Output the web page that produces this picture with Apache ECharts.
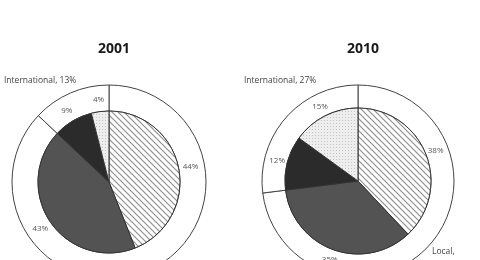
<!DOCTYPE html>
<html><head><meta charset="utf-8">
<script src="https://cdn.jsdelivr.net/npm/echarts@6/dist/echarts.min.js"></script>
<style>html,body{margin:0;padding:0;background:#fff;}#c{width:480px;height:260px;}</style>
</head><body><div id="c"></div>
<script>
var years = ['2001', '2010'];
var innerNames = ['Hatched', 'Dark', 'Black', 'Dotted'];
var inner2001 = [44, 43, 9, 4];
var inner2010 = [38, 35, 12, 15];
var ringNames = ['Local', 'International'];
var ring2001 = [87, 13];
var ring2010 = [73, 27];

function makePattern(kind) {
  var c = document.createElement('canvas');
  var ctx = c.getContext('2d');
  if (kind === 'hatch') {
    c.width = 6; c.height = 6;
    ctx.fillStyle = '#ffffff'; ctx.fillRect(0, 0, 6, 6);
    ctx.strokeStyle = '#909090'; ctx.lineWidth = 1.2;
    ctx.beginPath();
    ctx.moveTo(-1, -1); ctx.lineTo(7, 7);
    ctx.moveTo(-4, 2); ctx.lineTo(2, 8);
    ctx.moveTo(2, -4); ctx.lineTo(8, 2);
    ctx.stroke();
  } else {
    c.width = 3; c.height = 3;
    ctx.fillStyle = '#eeeeee'; ctx.fillRect(0, 0, 3, 3);
    ctx.fillStyle = '#c4c4c4'; ctx.fillRect(0, 0, 1, 1);
  }
  return c;
}
var fills = [
  { image: makePattern('hatch'), repeat: 'repeat' },
  '#535353',
  '#2b2b2b',
  { image: makePattern('dot'), repeat: 'repeat' }
];

var centers = [[109, 182], [358, 181]];
var innerR = [71, 73];
var outerR = [97, 96];
var innerData = [inner2001, inner2010];
var ringData = [ring2001, ring2010];
var font = '"Open Sans", Lato, sans-serif';

var series = [];
var ringLabelPos = [
  [[185, 282], [4, 71]],
  [[432, 242], [244, 71]]
];
for (var k = 0; k < 2; k++) {
  (function (k) {
    series.push({
      type: 'pie', center: centers[k], radius: [innerR[k], outerR[k]],
      startAngle: 90, clockwise: true, silent: true, animation: false,
      itemStyle: { color: '#ffffff', borderColor: '#444', borderWidth: 1 },
      label: {
        show: true, position: 'outside', color: '#444', fontSize: 8.5, fontFamily: font,
        overflow: 'none', lineHeight: 20,
        formatter: function (p) {
          return p.dataIndex === 0 ? p.name + ',\n' + p.value + '%' : p.name + ', ' + p.value + '%';
        }
      },
      labelLine: { show: false },
      labelLayout: function (p) {
        var pos = ringLabelPos[k][p.dataIndex];
        return { x: pos[0], y: pos[1], align: 'left', verticalAlign: 'top', hideOverlap: false };
      },
      data: ringNames.map(function (n, i) { return { name: n, value: ringData[k][i] }; })
    });
    series.push({
      type: 'pie', center: centers[k], radius: [0, innerR[k]],
      startAngle: 90, clockwise: true, silent: true, animation: false,
      itemStyle: { borderColor: '#333', borderWidth: 1 },
      label: { show: false },
      data: innerNames.map(function (n, i) {
        return { name: n, value: innerData[k][i], itemStyle: { color: fills[i] } };
      })
    });
    series.push({
      type: 'pie', center: centers[k], radius: [innerR[k], outerR[k] - 8],
      startAngle: 90, clockwise: true, silent: true, animation: false,
      itemStyle: { color: 'transparent', borderWidth: 0 },
      label: {
        show: true, position: 'inside', color: '#555', fontSize: 8, fontFamily: font,
        formatter: '{c}%'
      },
      data: innerNames.map(function (n, i) { return { name: n + 'L', value: innerData[k][i] }; })
    });
  })(k);
}

var chart = echarts.init(document.getElementById('c'), null, { renderer: 'canvas' });
chart.setOption({
  backgroundColor: '#ffffff',
  animation: false,
  title: years.map(function (y, i) {
    return {
      text: y, left: centers[i][0], top: 37, textAlign: 'center',
      textStyle: { fontSize: 14, fontWeight: 'bold', color: '#1a1a1a', fontFamily: font }
    };
  }),
  series: series
});
</script></body></html>
